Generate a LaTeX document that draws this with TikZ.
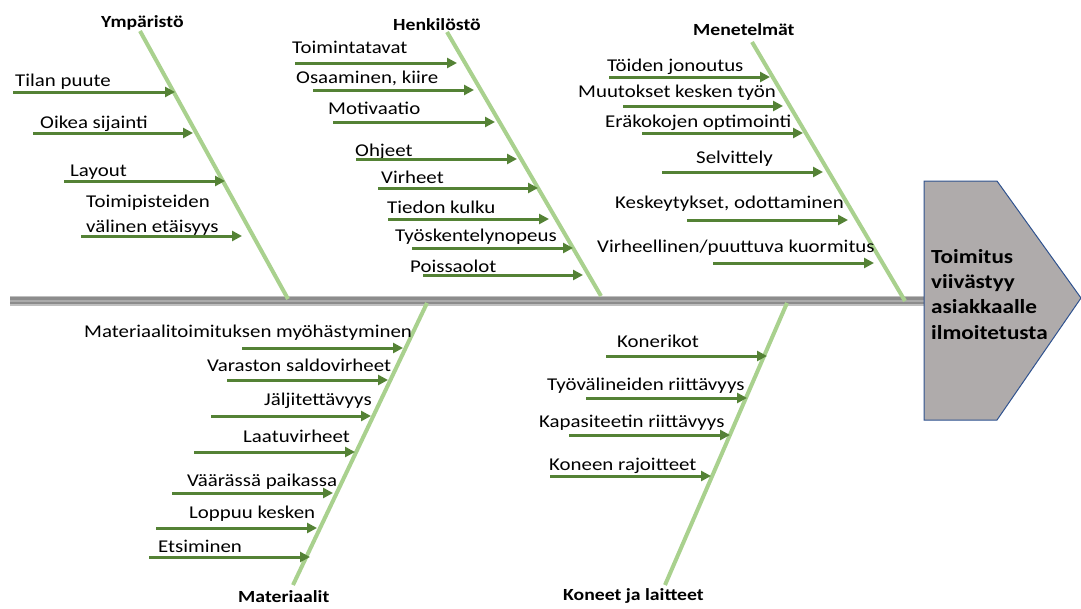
\documentclass[tikz,border=0pt]{standalone}
\usepackage{fontspec}
\setmainfont{Carlito}[FakeStretch=1.16]
\usetikzlibrary{arrows.meta}
\definecolor{bonegreen}{HTML}{A9D18E}
\definecolor{arrowgreen}{HTML}{548235}
\definecolor{headfill}{HTML}{AFABAB}
\definecolor{headline}{HTML}{2F528F}
\tikzset{
  lbl/.style={inner sep=0pt, font=\fontsize{18}{22}\selectfont, text=black},
  cattitle/.style={inner sep=0pt, font=\fontsize{17}{20}\selectfont\bfseries, text=black},
  causearrow/.style={draw=arrowgreen, line width=3pt, -{Triangle[length=10pt,width=10pt]}},
  bone/.style={draw=bonegreen, line width=4pt},
}
% one cause: name, text x, text baseline y, text, arrow y, arrow start x, arrow end x
\newcommand\causeitem[7]{%
  \node[lbl, anchor=base west] (#1) at (#2,#3) {#4};
  \coordinate (#1-s) at (#6,#5);
  \coordinate (#1-e) at (#7,#5);
  \draw[causearrow] (#1-s) -- (#1-e);
}
\begin{document}
\begin{tikzpicture}[x=1pt,y=-1pt]
\useasboundingbox (0,0) rectangle (1081,608);

% spine
\coordinate (spineL) at (10,300.5);
\coordinate (spineR) at (924,300.5);
\draw[line width=10pt, color=black!25] (spineL) -- (spineR);
\draw[line width=7pt, color=black!45] (spineL) -- (spineR);
\draw[line width=2pt, color=black!33] (spineL) -- (spineR);

% head
\coordinate (h1) at (924,181);
\coordinate (h2) at (997,181);
\coordinate (h3) at (1081,298);
\coordinate (h4) at (997,420);
\coordinate (h5) at (924,420);
\draw[fill=headfill, draw=headline, line width=1pt] (h1) -- (h2) -- (h3) -- (h4) -- (h5) -- cycle;
\node[inner sep=0pt, anchor=north west, align=left, font=\fontsize{20}{25.3}\selectfont\bfseries] (head) at (931,249)
  {Toimitus\\viivästyy\\asiakkaalle\\ilmoitetusta};

% bones
\coordinate (b1t) at (140,31);  \coordinate (b1b) at (288,299);
\coordinate (b2t) at (447,32);  \coordinate (b2b) at (601,296);
\coordinate (b3t) at (752,42);  \coordinate (b3b) at (905,301);
\coordinate (b4t) at (427,303); \coordinate (b4b) at (293,585);
\coordinate (b5t) at (787,303); \coordinate (b5b) at (665,585);
\draw[bone] (b1t) -- (b1b);
\draw[bone] (b2t) -- (b2b);
\draw[bone] (b3t) -- (b3b);
\draw[bone] (b4t) -- (b4b);
\draw[bone] (b5t) -- (b5b);

% category titles
\node[cattitle, anchor=base west] (t1) at (101,27) {Ympäristö};
\node[cattitle, anchor=base west] (t2) at (393,30) {Henkilöstö};
\node[cattitle, anchor=base west] (t3) at (693,35) {Menetelmät};
\node[cattitle, anchor=base west] (t4) at (238,602) {Materiaalit};
\node[cattitle, anchor=base west] (t5) at (563,600) {Koneet ja laitteet};

% Ympäristö
\causeitem{y1}{15}{86}{Tilan puute}{92}{13}{175}
\causeitem{y2}{40}{128}{Oikea sijainti}{133}{33}{193}
\causeitem{y3}{70}{176}{Layout}{181}{64}{225}
\node[lbl, anchor=north west, align=left, font=\fontsize{18}{25}\selectfont] (y4) at (86,195) {Toimipisteiden\\välinen etäisyys};
\coordinate (y4-s) at (81,236);
\coordinate (y4-e) at (242,236);
\draw[causearrow] (y4-s) -- (y4-e);

% Henkilöstö
\causeitem{p1}{292}{53}{Toimintatavat}{63}{295}{457}
\causeitem{p2}{296}{83}{Osaaminen, kiire}{90}{313}{474}
\causeitem{p3}{328}{114}{Motivaatio}{122}{333}{495}
\causeitem{p4}{355}{156}{Ohjeet}{159}{356}{517}
\causeitem{p5}{381}{183}{Virheet}{188}{378}{538}
\causeitem{p6}{387}{213}{Tiedon kulku}{219}{388}{549}
\causeitem{p7}{395}{241}{Työskentelynopeus}{248}{412}{573}
\causeitem{p8}{410}{272}{Poissaolot}{275}{423}{583}

% Menetelmät
\causeitem{m1}{607}{71}{Töiden jonoutus}{77}{609}{770}
\causeitem{m2}{578}{97}{Muutokset kesken työn}{106}{623}{783}
\causeitem{m3}{605}{127}{Eräkokojen optimointi}{133}{642}{803}
\causeitem{m4}{696}{163}{Selvittely}{172}{662}{823}
\causeitem{m5}{615}{208}{Keskeytykset, odottaminen}{220}{687}{848}
\causeitem{m6}{597}{252}{Virheellinen/puuttuva kuormitus}{263}{713}{874}

% Materiaalit
\causeitem{a1}{84}{337}{Materiaalitoimituksen myöhästyminen}{348}{242}{403}
\causeitem{a2}{207}{371}{Varaston saldovirheet}{380}{227}{388}
\causeitem{a3}{264}{405}{Jäljitettävyys}{416}{211}{371}
\causeitem{a4}{243}{442}{Laatuvirheet}{452}{194}{355}
\causeitem{a5}{187}{486}{Väärässä paikassa}{493}{172}{333}
\causeitem{a6}{189}{518}{Loppuu kesken}{528}{156}{317}
\causeitem{a7}{158}{552}{Etsiminen}{557}{149}{310}

% Koneet ja laitteet
\causeitem{k1}{617}{347}{Konerikot}{356}{606}{767}
\causeitem{k2}{547}{390}{Työvälineiden riittävyys}{398}{586}{747}
\causeitem{k3}{539}{427}{Kapasiteetin riittävyys}{435}{569}{730}
\causeitem{k4}{549}{470}{Koneen rajoitteet}{476}{550}{711}
\end{tikzpicture}
\end{document}
